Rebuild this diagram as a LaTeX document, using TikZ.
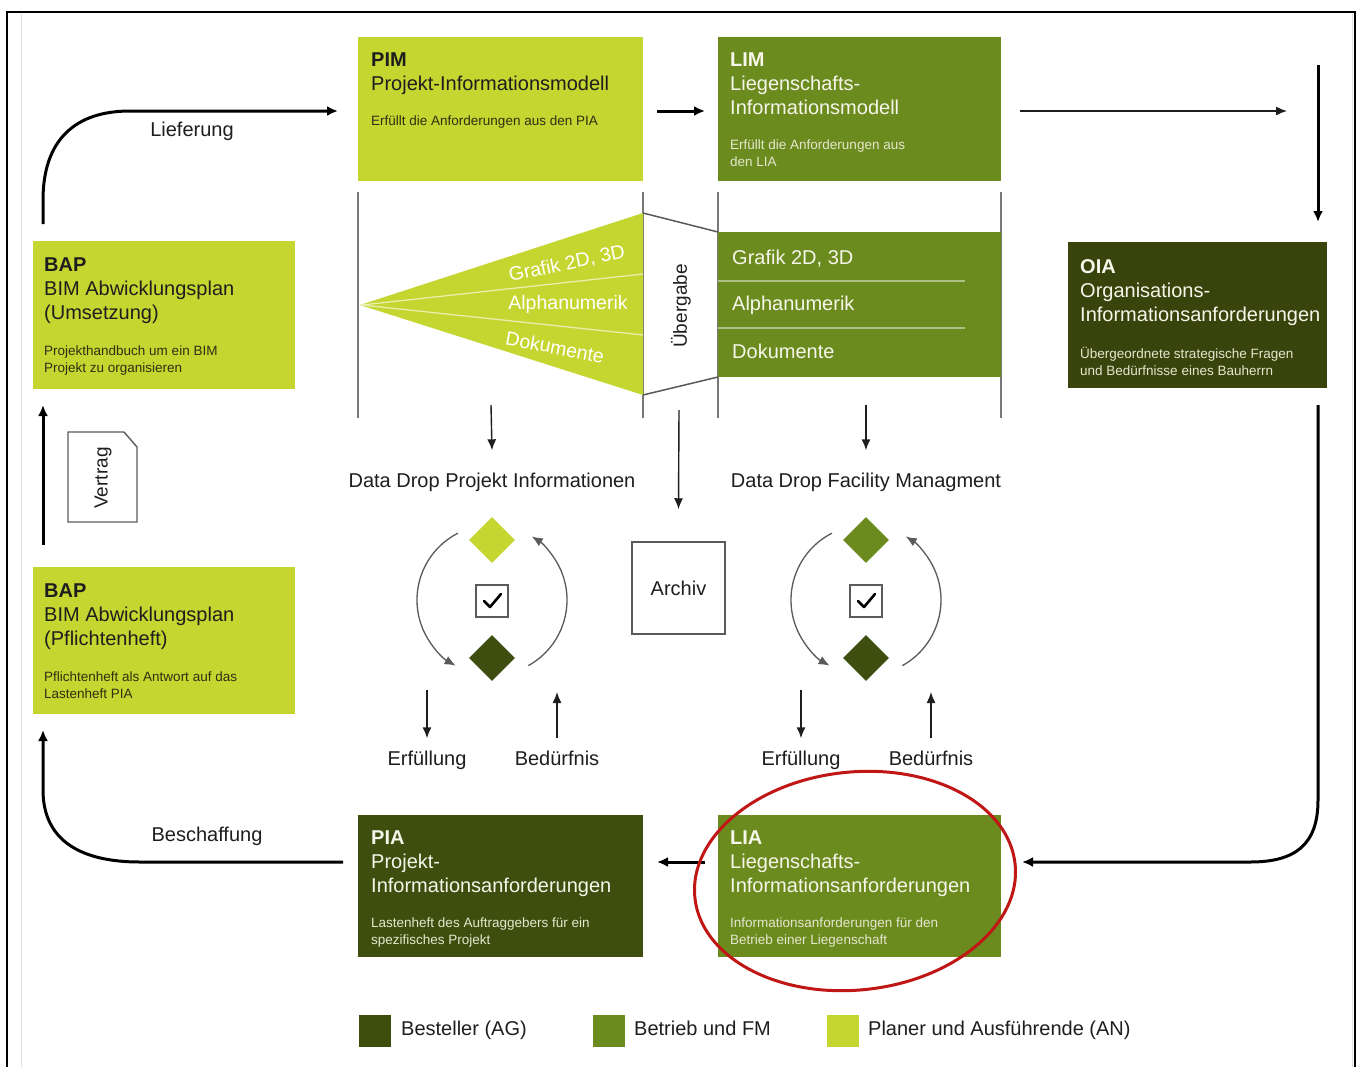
\documentclass[tikz,border=0pt]{standalone}
\usepackage{fontspec}
\setmainfont{Liberation Sans}
\usetikzlibrary{arrows.meta,shapes.geometric}
\definecolor{cLight}{RGB}{197,214,48}
\definecolor{cMed}{RGB}{108,139,31}
\definecolor{cDark}{RGB}{62,78,14}
\definecolor{cDarker}{RGB}{56,68,12}
\definecolor{txtDark}{RGB}{30,30,30}
\definecolor{txtSmallDark}{RGB}{45,48,18}
\definecolor{txtLight}{RGB}{246,246,234}
\definecolor{txtSmallLight}{RGB}{228,231,205}
\definecolor{lineGray}{RGB}{90,90,90}
\definecolor{vGray}{RGB}{120,120,120}
\definecolor{ellRed}{RGB}{192,22,22}
\tikzset{
  ibox/.style={anchor=north west, inner sep=0pt, outer sep=0pt},
  headtxt/.style={anchor=north west, inner sep=0pt, align=left, font=\fontsize{20}{24}\selectfont},
  smalltxt/.style={anchor=north west, inner sep=0pt, align=left, font=\fontsize{13.5}{17}\selectfont},
  lbl/.style={font=\fontsize{20}{24}\selectfont, text=txtDark, inner sep=0pt, text height=15pt, text depth=4pt},
  bigarrow/.style={line width=3pt, -{Latex[length=11pt,width=10pt]}},
  thinarrow/.style={line width=1.4pt, draw=txtDark, -{Latex[length=11pt,width=9pt]}},
  arcarrow/.style={line width=1.3pt, draw=lineGray, -{Latex[length=11pt,width=9pt]}},
  vline/.style={line width=1.3pt, draw=vGray},
  dia/.style={diamond, inner sep=0pt, minimum width=46pt, minimum height=46pt},
  cbox/.style={draw=lineGray, line width=1.5pt, minimum width=32pt, minimum height=32pt, inner sep=0pt},
  tick/.style={line width=2.6pt, line cap=round, line join=round},
  lgsq/.style={ibox, minimum width=32pt, minimum height=32pt}
}
\begin{document}
\begin{tikzpicture}[x=1pt,y=-1pt]
\useasboundingbox (0,0) rectangle (1357,1066);
\fill[white] (0,0) rectangle (1357,1066);
% frame
\draw[line width=0.8pt, draw=black!12] (21,14) -- (21,1070);
\draw[line width=0.8pt, draw=black!12] (1352,14) -- (1352,1070);
\draw[line width=2.5pt] (7,1070) -- (7,12) -- (1355,12) -- (1355,1070);

% ===== boxes =====
\node[ibox, fill=cLight, minimum width=285pt, minimum height=144pt] (pim) at (358,37) {};
\node[headtxt, text=txtDark] (pimT) at (371,53) {\textbf{PIM}\\Projekt-Informationsmodell};
\node[smalltxt, text=txtSmallDark] (pimS) at (371,116) {Erfüllt die Anforderungen aus den PIA};

\node[ibox, fill=cMed, minimum width=283pt, minimum height=144pt] (lim) at (718,37) {};
\node[headtxt, text=txtLight] (limT) at (730,53) {\textbf{LIM}\\Liegenschafts-\\Informationsmodell};
\node[smalltxt, text=txtSmallLight] (limS) at (730,140) {Erfüllt die Anforderungen aus\\den LIA};

\node[ibox, fill=cLight, minimum width=262pt, minimum height=148pt] (bapu) at (33,241) {};
\node[headtxt, text=txtDark] (bapuT) at (44,258) {\textbf{BAP}\\BIM Abwicklungsplan\\(Umsetzung)};
\node[smalltxt, text=txtSmallDark] (bapuS) at (44,346) {Projekthandbuch um ein BIM\\Projekt zu organisieren};

\node[ibox, fill=cDarker, minimum width=259pt, minimum height=146pt] (oia) at (1068,242) {};
\node[headtxt, text=txtLight] (oiaT) at (1080,259) {\textbf{OIA}\\Organisations-\\Informationsanforderungen};
\node[smalltxt, text=txtSmallLight] (oiaS) at (1080,347) {Übergeordnete strategische Fragen\\und Bedürfnisse eines Bauherrn};

\node[ibox, fill=cLight, minimum width=262pt, minimum height=147pt] (bapp) at (33,567) {};
\node[headtxt, text=txtDark] (bappT) at (44,584) {\textbf{BAP}\\BIM Abwicklungsplan\\(Pflichtenheft)};
\node[smalltxt, text=txtSmallDark] (bappS) at (44,672) {Pflichtenheft als Antwort auf das\\Lastenheft PIA};

\node[ibox, fill=cDark, minimum width=285pt, minimum height=142pt] (pia) at (358,815) {};
\node[headtxt, text=txtLight] (piaT) at (371,831) {\textbf{PIA}\\Projekt-\\Informationsanforderungen};
\node[smalltxt, text=txtSmallLight] (piaS) at (371,918) {Lastenheft des Auftraggebers für ein\\spezifisches Projekt};

\node[ibox, fill=cMed, minimum width=283pt, minimum height=142pt] (lia) at (718,815) {};
\node[headtxt, text=txtLight] (liaT) at (730,831) {\textbf{LIA}\\Liegenschafts-\\Informationsanforderungen};
\node[smalltxt, text=txtSmallLight] (liaS) at (730,918) {Informationsanforderungen für den\\Betrieb einer Liegenschaft};

% ===== main loop connectors =====
\coordinate (liefS) at ([xshift=10pt,yshift=17pt]bapu.north west);
\coordinate (liefE) at ([xshift=-20pt,yshift=-2pt]pim.west);
\draw[bigarrow] (liefS) -- (43,200) .. controls (43,140) and (75,111) .. (130,111) -- (liefE);
\node[lbl] (lief) at (192,131) {Lieferung};

\draw[bigarrow] ([xshift=14pt,yshift=-2pt]pim.east) -- ([xshift=-13pt,yshift=-2pt]lim.west);

\coordinate (rEnd) at (1287,111);
\draw[thinarrow] ([xshift=19pt,yshift=-2pt]lim.east) -- (rEnd);

\coordinate (rTop) at (1318,65);
\draw[bigarrow] (rTop) -- ([xshift=-9pt,yshift=20pt]oia.north east);

\draw[bigarrow] ([xshift=-9pt,yshift=-17pt]oia.south east) -- (1318,800) .. controls (1318,845) and (1295,862) .. (1250,862) -- ([xshift=21pt,yshift=24pt]lia.east);

\draw[bigarrow] ([xshift=-13pt,yshift=24pt]lia.west) -- ([xshift=14pt,yshift=24pt]pia.east);

\draw[bigarrow] ([xshift=-15pt,yshift=24pt]pia.west) -- (140,862) .. controls (80,862) and (43,840) .. (43,790) -- ([xshift=10pt,yshift=-16pt]bapp.south west);
\node[lbl] (besch) at (207,836) {Beschaffung};

\draw[bigarrow] ([xshift=10pt,yshift=22pt]bapp.north west) -- ([xshift=10pt,yshift=-16pt]bapu.south west);

% Vertrag document
\draw[line width=1.4pt, draw=lineGray, fill=white] (68,432) -- (124,432) -- (137,447) -- (137,522) -- (68,522) -- cycle;
\node[lbl, rotate=90, font=\fontsize{19}{22}\selectfont] (vertrag) at (102,478) {Vertrag};

% ===== middle section =====
\draw[vline] ([yshift=-11pt]pim.south west) -- ++(0,226);
\draw[vline] ([yshift=-11pt]pim.south east) -- ++(0,226);
\draw[vline] ([yshift=-11pt]lim.south west) -- ++(0,226);
\draw[vline] ([yshift=-11pt]lim.south east) -- ++(0,226);

% triangle
\fill[cLight] (360,305) -- (643,213) -- (643,395) -- cycle;
\draw[line width=1.3pt, draw=white!60!cLight] (362,305) -- (643,274);
\draw[line width=1.3pt, draw=white!60!cLight] (362,305) -- (643,335);
\node[font=\fontsize{19.5}{22}\selectfont, text=white, inner sep=0pt, rotate=12] (tg) at (567,264) {Grafik 2D, 3D};
\node[font=\fontsize{19.5}{22}\selectfont, text=white, inner sep=0pt] (ta) at (568,304) {Alphanumerik};
\node[font=\fontsize{19.5}{22}\selectfont, text=white, inner sep=0pt, rotate=-11] (td) at (555,347) {Dokumente};

% Uebergabe
\draw[line width=1.5pt, draw=lineGray] (643,213) -- (718,232);
\draw[line width=1.5pt, draw=lineGray] (643,395) -- (718,377);
\node[font=\fontsize{19}{22}\selectfont, text=txtDark, inner sep=0pt, rotate=90] (ueb) at (681,306) {Übergabe};

% bands
\node[ibox, fill=cMed, minimum width=283pt, minimum height=145pt] (bands) at (718,232) {};
\draw[line width=1.5pt, draw=white!45!cMed] (718,281) -- (965,281);
\draw[line width=1.5pt, draw=white!45!cMed] (718,328) -- (965,328);
\node[lbl, text=txtLight, anchor=west] (bg) at (732,259) {Grafik 2D, 3D};
\node[lbl, text=txtLight, anchor=west] (ba) at (732,305) {Alphanumerik};
\node[lbl, text=txtLight, anchor=west] (bd) at (732,353) {Dokumente};

% data drops
\node[lbl] (ddp) at (492,482) {Data Drop Projekt Informationen};
\node[lbl] (ddf) at (866,482) {Data Drop Facility Managment};
\coordinate (ddpS) at (491,405);
\coordinate (ddfS) at (866,405);
\coordinate (uebS) at (679,410);
\draw[thinarrow] (ddpS) -- ([yshift=22pt]ddp.north);
\draw[thinarrow] (ddfS) -- ([yshift=22pt]ddf.north);

% Archiv
\node[draw=lineGray, line width=1.5pt, minimum width=93pt, minimum height=92pt, inner sep=0pt, font=\fontsize{20}{24}\selectfont, text=txtDark] (archiv) at (678.5,588) {Archiv};
\draw[thinarrow] (uebS) -- ([yshift=32pt]archiv.north);

% left cycle
\node[dia, fill=cLight] (d1t) at (492,540) {};
\node[dia, fill=cDark] (d1b) at (492,658) {};
\node[cbox] (cb1) at (492,601) {};
\draw[tick] ([shift={(-8,0)}]cb1.center) -- ([shift={(-2,6)}]cb1.center) -- ([shift={(9,-7)}]cb1.center);
\draw[arcarrow] (492,600) ++(243:75) arc[start angle=243, end angle=119, radius=75];
\draw[arcarrow] (492,600) ++(61:75) arc[start angle=61, end angle=-58, radius=75];
\node[lbl] (erf1) at (427,760) {Erfüllung};
\node[lbl] (bed1) at (557,760) {Bedürfnis};
\draw[thinarrow] (427,690) -- ([yshift=12pt]erf1.north);
\draw[thinarrow] ([yshift=12pt]bed1.north) -- (557,692);

% right cycle
\node[dia, fill=cMed] (d2t) at (866,540) {};
\node[dia, fill=cDark] (d2b) at (866,658) {};
\node[cbox] (cb2) at (866,601) {};
\draw[tick] ([shift={(-8,0)}]cb2.center) -- ([shift={(-2,6)}]cb2.center) -- ([shift={(9,-7)}]cb2.center);
\draw[arcarrow] (866,600) ++(243:75) arc[start angle=243, end angle=119, radius=75];
\draw[arcarrow] (866,600) ++(61:75) arc[start angle=61, end angle=-58, radius=75];
\node[lbl] (erf2) at (801,760) {Erfüllung};
\node[lbl] (bed2) at (931,760) {Bedürfnis};
\draw[thinarrow] (801,690) -- ([yshift=12pt]erf2.north);
\draw[thinarrow] ([yshift=12pt]bed2.north) -- (931,692);

% red ellipse
\draw[ellRed, line width=3pt, rotate around={6:(855,881)}] (855,881) ellipse[x radius=161, y radius=109];

% legend
\node[lgsq, fill=cDark] (lg1) at (359,1015) {};
\node[lbl, anchor=west] (lg1t) at (401,1030) {Besteller (AG)};
\node[lgsq, fill=cMed] (lg2) at (593,1015) {};
\node[lbl, anchor=west] (lg2t) at (634,1030) {Betrieb und FM};
\node[lgsq, fill=cLight] (lg3) at (827,1015) {};
\node[lbl, anchor=west] (lg3t) at (868,1030) {Planer und Ausführende (AN)};
\end{tikzpicture}
\end{document}
